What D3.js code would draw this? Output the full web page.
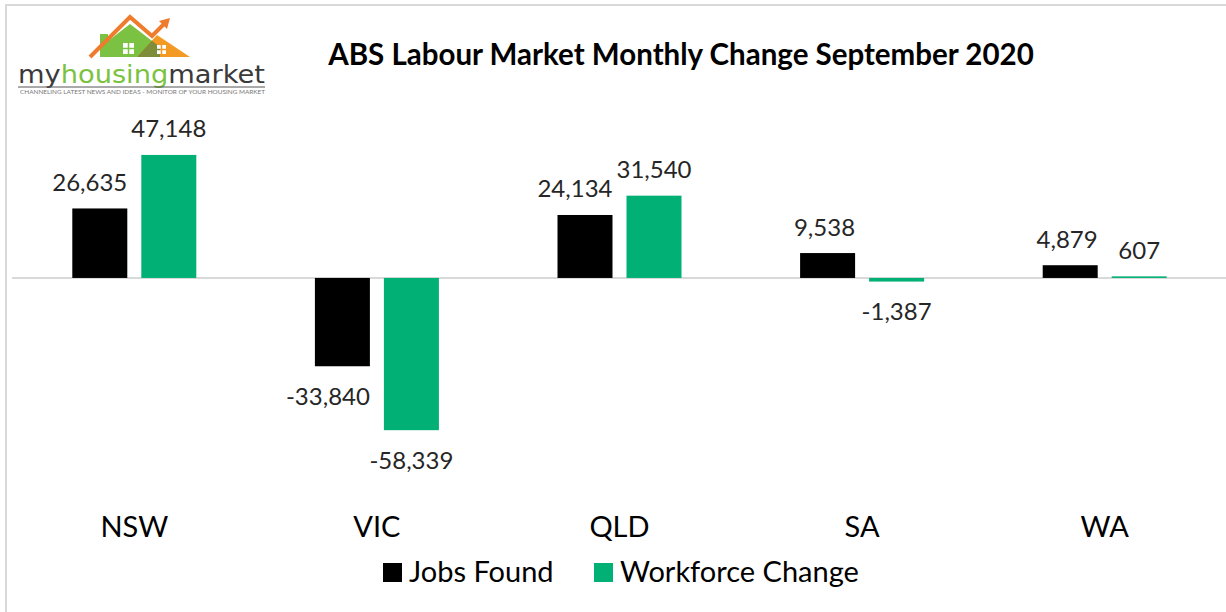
<!DOCTYPE html>
<html lang="en">
<head>
    <meta charset="UTF-8">
    <title>ABS Labour Market Monthly Change September 2020</title>
    <script src="https://d3js.org/d3.v7.min.js"></script>
    <style>
        body {
            margin: 0;
            background: #fff;
        }
        text {
            font-family: Lato, "Open Sans", sans-serif;
        }
        .title {
            font-size: 29.5px;
            font-weight: bold;
            fill: #000;
            text-anchor: middle;
        }
        .value {
            font-size: 24px;
            fill: #262626;
        }
        .cat {
            font-size: 29px;
            fill: #000;
            text-anchor: middle;
        }
        .legend text {
            font-size: 29px;
            fill: #000;
        }
        .zero {
            stroke: #d9d9d9;
            stroke-width: 2;
        }
        .frame {
            fill: none;
            stroke: #d9d9d9;
            stroke-width: 2;
        }
    </style>
</head>
<body>
<script>
    const width = 1226;
    const height = 612;

    // data
    const categories = ["NSW", "VIC", "QLD", "SA", "WA"];
    const jobsFound = [26635, -33840, 24134, 9538, 4879];
    const workforceChange = [47148, -58339, 31540, -1387, 607];
    const seriesNames = ["Jobs Found", "Workforce Change"];
    const seriesColors = ["#000000", "#00b074"];

    const series = [jobsFound, workforceChange];
    const rows = [];
    categories.forEach((c, i) => {
        series.forEach((s, j) => rows.push({cat: c, name: seriesNames[j], value: s[i]}));
    });

    const svg = d3.select("body").append("svg")
        .attr("width", width)
        .attr("height", height);

    // light frame (top + left edges visible)
    svg.append("path")
        .attr("class", "frame")
        .attr("d", "M6,620 L6,5 L1230,5");

    const x0 = d3.scaleBand()
        .domain(categories)
        .range([13, 1226]);

    const x1 = d3.scaleBand()
        .domain(seriesNames)
        .range([-62, 62])
        .paddingInner(0.203);

    const y = d3.scaleLinear()
        .domain([-70000, 60000])
        .range([460.6, 121.4]);

    const color = d3.scaleOrdinal().domain(seriesNames).range(seriesColors);
    const fmt = d3.formatLocale({decimal: ".", thousands: ",", grouping: [3], currency: ["", ""], minus: "-"}).format(",");

    // zero line
    svg.append("line")
        .attr("class", "zero")
        .attr("x1", 12)
        .attr("x2", width)
        .attr("y1", y(0))
        .attr("y2", y(0));

    const cx = d => x0(d.cat) + x0.bandwidth() / 2 + x1(d.name);

    svg.append("g").attr("class", "bars")
        .selectAll("rect")
        .data(rows)
        .enter()
        .append("rect")
        .attr("x", cx)
        .attr("width", x1.bandwidth())
        .attr("y", d => Math.min(y(d.value), y(0)))
        .attr("height", d => Math.abs(y(d.value) - y(0)))
        .attr("fill", d => color(d.name));

    // first series labels pulled left so they clear the neighbour's label
    const first = d => d.name === seriesNames[0];
    svg.append("g").attr("class", "labels")
        .selectAll("text")
        .data(rows)
        .enter()
        .append("text")
        .attr("class", "value")
        .attr("text-anchor", d => first(d) ? "end" : "middle")
        .attr("x", d => first(d) ? cx(d) + x1.bandwidth() : cx(d) + x1.bandwidth() / 2)
        .attr("y", d => d.value >= 0 ? y(d.value) - 17.5 : y(d.value) + 38.5)
        .text(d => fmt(d.value));

    // category names
    svg.append("g")
        .selectAll("text")
        .data(categories)
        .enter()
        .append("text")
        .attr("class", "cat")
        .attr("x", d => x0(d) + x0.bandwidth() / 2)
        .attr("y", 537)
        .text(d => d);

    svg.append("text")
        .attr("class", "title")
        .attr("x", 681)
        .attr("y", 65)
        .text("ABS Labour Market Monthly Change September 2020");

    // legend
    const legend = svg.append("g").attr("class", "legend");
    const legendX = [383, 594];
    const item = legend.selectAll("g")
        .data(seriesNames)
        .enter()
        .append("g")
        .attr("transform", (d, i) => `translate(${legendX[i]},563)`);
    item.append("rect")
        .attr("width", 19)
        .attr("height", 19)
        .attr("fill", d => color(d));
    item.append("text")
        .attr("x", 26)
        .attr("y", 19)
        .text(d => d);

    drawLogo(svg.append("g").attr("class", "logo"));

    function drawLogo(g) {
        const green = "#7cc242";
        const orange = "#f39a24";
        const houseG = [[100, 57], [100, 34], [108, 34], [108, 41], [130, 24], [160, 47], [160, 57]];
        const houseO = [[137, 57], [157, 35], [190, 57]];
        const pts = p => p.map(q => q.join(",")).join(" ");

        g.append("clipPath").attr("id", "orangeClip")
            .append("polygon").attr("points", pts(houseO));

        g.append("polygon").attr("points", pts(houseG)).attr("fill", green);
        g.append("polygon").attr("points", pts(houseO)).attr("fill", orange);
        g.append("polygon").attr("points", pts(houseG)).attr("fill", "#7e8d3a")
            .attr("clip-path", "url(#orangeClip)");

        // rising roof line with arrow
        g.append("polyline")
            .attr("points", pts([[90, 57], [130, 17], [152, 36], [164, 24]]))
            .attr("fill", "none")
            .attr("stroke", "#ef7b2c")
            .attr("stroke-width", 4);
        g.append("polygon")
            .attr("points", pts([[170, 18], [159, 21], [167, 29]]))
            .attr("fill", "#ef7b2c");

        // windows
        [[123, 43, 11], [157, 45, 9]].forEach(w => {
            const s = (w[2] - 1.5) / 2;
            [[0, 0], [1, 0], [0, 1], [1, 1]].forEach(c => {
                g.append("rect")
                    .attr("x", w[0] + c[0] * (s + 1.5))
                    .attr("y", w[1] + c[1] * (s + 1.5))
                    .attr("width", s)
                    .attr("height", s)
                    .attr("fill", "#fff");
            });
        });

        const word = g.append("text")
            .attr("x", 18)
            .attr("y", 83)
            .attr("textLength", 247)
            .attr("lengthAdjust", "spacingAndGlyphs")
            .style("font-family", "'DejaVu Sans', sans-serif")
            .style("font-size", "24px")
            .style("font-weight", "normal");
        word.append("tspan").attr("fill", "#3a3a3a").text("my");
        word.append("tspan").attr("fill", green).text("housing");
        word.append("tspan").attr("fill", "#3a3a3a").text("market");

        g.append("line")
            .attr("x1", 18).attr("x2", 265)
            .attr("y1", 87).attr("y2", 87)
            .attr("stroke", "#555")
            .attr("stroke-width", 1);

        g.append("text")
            .attr("x", 20)
            .attr("y", 94)
            .attr("textLength", 245)
            .attr("lengthAdjust", "spacingAndGlyphs")
            .style("font-size", "5px")
            .attr("fill", "#777")
            .text("CHANNELING LATEST NEWS AND IDEAS - MONITOR OF YOUR HOUSING MARKET");
    }
</script>
</body>
</html>
